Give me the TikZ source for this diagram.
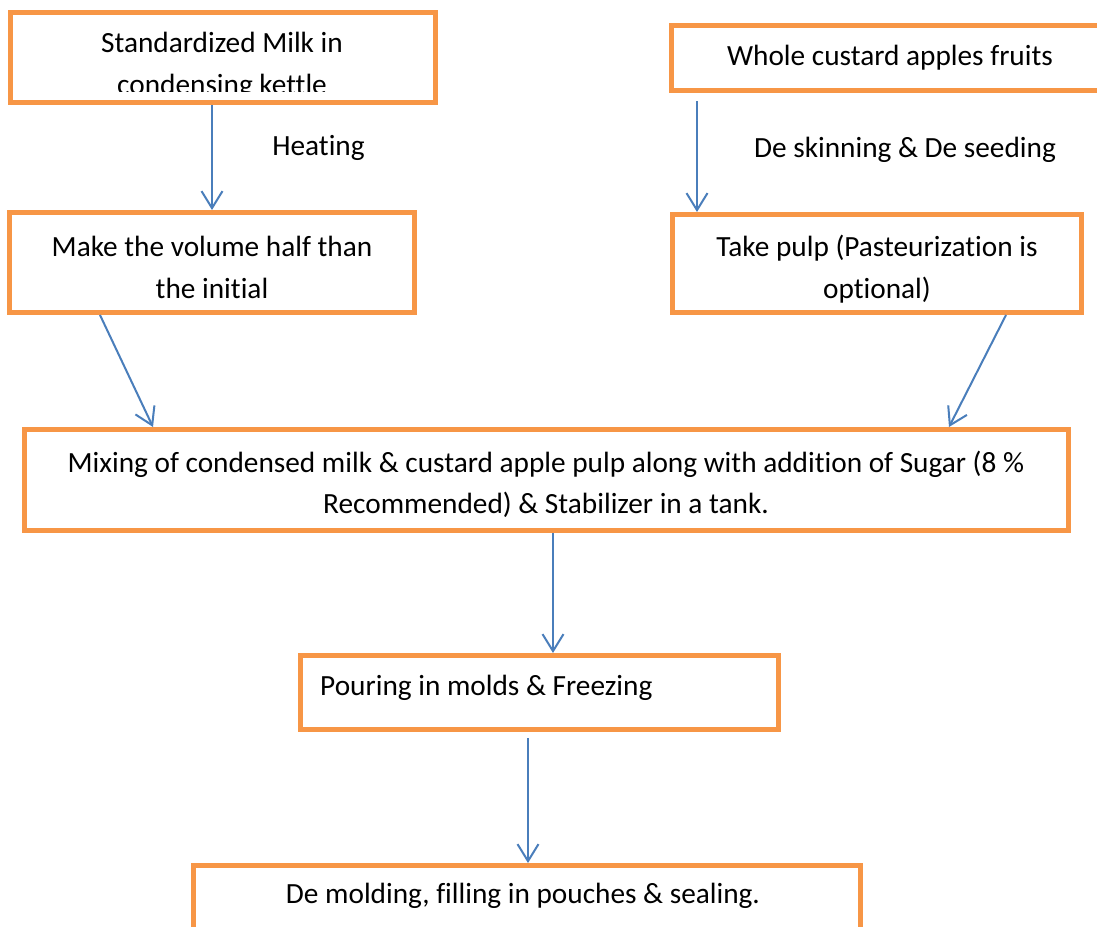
\documentclass[tikz,border=0pt]{standalone}
\usepackage{fontspec}
\setmainfont{Carlito}[Ligatures=NoCommon]
\usetikzlibrary{arrows.meta}
\definecolor{boxorange}{HTML}{F79646}
\definecolor{arrowblue}{HTML}{4A7EBB}
\tikzset{
  box/.style={draw=boxorange, line width=5pt, fill=none, inner sep=0pt},
  lbl/.style={anchor=base, inner sep=0pt, font=\fontsize{29.3}{42}\selectfont},
  arr/.style={draw=arrowblue, line width=2pt, -{Straight Barb[length=17pt,width=21pt,line width=2pt]}}
}
\begin{document}
\begin{tikzpicture}[x=1pt,y=-1pt]
\useasboundingbox (0,0) rectangle (1097,926);
\fill[white] (0,0) rectangle (1097,926);
% boxes
\node[box, minimum width=425, minimum height=90] (b1) at (223,57.5) {};
\node[box, minimum width=448.5, minimum height=65] (b2) at (895.75,58) {};
\node[box, minimum width=405, minimum height=100] (b3) at (212,262.5) {};
\node[box, minimum width=409, minimum height=98] (b4) at (877,263.5) {};
\node[box, minimum width=1044, minimum height=101] (b5) at (546.5,480) {};
\node[box, minimum width=478, minimum height=74] (b6) at (539.5,692.5) {};
\node[box, minimum width=667, minimum height=94.5] (b7) at (527,912.75) {};
% texts
\node[lbl] (t1a) at (222,52) {Standardized Milk in};
\begin{scope}
  \clip (0,0) rectangle (1097,91);
  \node[lbl] (t1b) at (222,94) {condensing kettle};
\end{scope}
\node[lbl] (heat) at (318.5,155) {Heating};
\node[lbl] (t2) at (890,65) {Whole custard apples fruits};
\node[lbl] (skin) at (905,157) {De skinning \& De seeding};
\node[lbl] (t3a) at (212,256) {Make the volume half than};
\node[lbl] (t3b) at (212,298) {the initial};
\node[lbl] (t4a) at (877,256) {Take pulp (Pasteurization is};
\node[lbl] (t4b) at (877,298) {optional)};
\node[lbl] (t5a) at (546,472) {Mixing of condensed milk \& custard apple pulp along with addition of Sugar (8 \%};
\node[lbl] (t5b) at (546,513) {Recommended) \& Stabilizer in a tank.};
\node[lbl, anchor=base west] (t6) at (320,695) {Pouring in molds \& Freezing};
\node[lbl] (t7) at (523,903) {De molding, filling in pouches \& sealing.};
% connector coordinates
\coordinate (x1) at (212,0);
\coordinate (a2s) at (697,101);
\coordinate (x3s) at (100,0);
\coordinate (x3e) at (153,0);
\coordinate (x4s) at (1006,0);
\coordinate (x4e) at (949,0);
\coordinate (x5) at (553,0);
\coordinate (a6s) at (528,738);
% connectors
\draw[arr] (x1 |- b1.south) -- (x1 |- b3.north);
\draw[arr] (a2s) -- (a2s |- b4.north);
\draw[arr] (x3s |- b3.south) -- (x3e |- b5.north);
\draw[arr] (x4s |- b4.south) -- (x4e |- b5.north);
\draw[arr] (x5 |- b5.south) -- (x5 |- b6.north);
\draw[arr] (a6s) -- (a6s |- b7.north);
\end{tikzpicture}
\end{document}
